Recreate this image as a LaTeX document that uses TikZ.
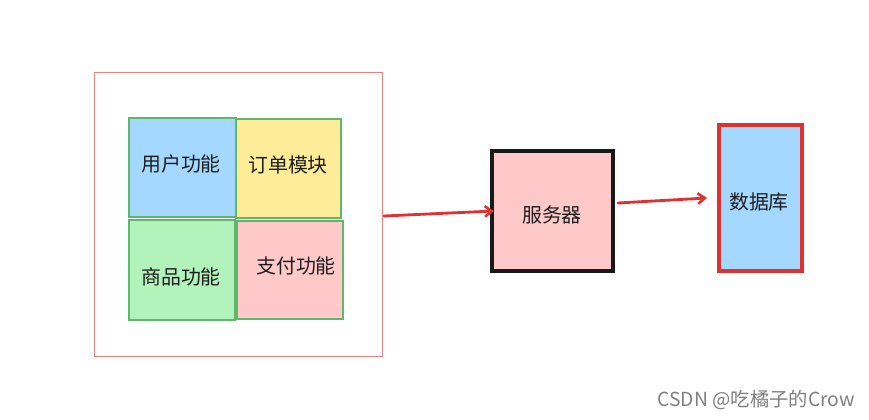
\documentclass[tikz,border=0pt]{standalone}
\usepackage{fontspec}
\setmainfont{Noto Sans CJK SC}
\newfontfamily\cjk{Noto Sans CJK SC}
\definecolor{lblue}{HTML}{A5D8FF}
\definecolor{lyellow}{HTML}{FFEC99}
\definecolor{lgreen}{HTML}{B2F2BB}
\definecolor{lpink}{HTML}{FFC9C9}
\definecolor{gborder}{HTML}{5DB86E}
\definecolor{rline}{HTML}{E03131}
\definecolor{outerred}{HTML}{EE8080}
\definecolor{txt}{HTML}{1E1E1E}
\tikzset{
  px/.style={x=0.03cm,y=-0.03cm},
  cell/.style={draw=gborder,line width=0.9pt},
  lbl/.style={font=\cjk\fontsize{17}{20}\selectfont,text=txt,inner sep=0pt},
  conn/.style={draw=rline,line width=2.4pt,line cap=round,-{Straight Barb[length=6pt,width=9pt,line width=2.2pt]}},
}
\usetikzlibrary{arrows.meta}
\begin{document}
\begin{tikzpicture}[px]
\useasboundingbox[fill=white] (0,0) rectangle (869,419);
% outer container
\draw[outerred,line width=0.8pt] (94,72) rectangle (382,356);
\coordinate (outerE) at (384,216);
% cells
\draw[cell,fill=lblue] (129,118) rectangle (236,217);
\node[lbl] (yh) at (181,164) {用户功能};
\draw[cell,fill=lyellow] (236,119) rectangle (341,218);
\node[lbl] (dd) at (288,165) {订单模块};
\draw[cell,fill=lgreen] (129,220) rectangle (235,320);
\node[lbl] (sp) at (181,277) {商品功能};
\draw[cell,fill=lpink] (237,221) rectangle (343,319);
\node[lbl] (zf) at (296,266) {支付功能};
% server
\node[draw=black!90,fill=lpink,line width=2.9pt,minimum width=121*0.03cm,minimum height=120*0.03cm,inner sep=0pt] (srv) at (552.5,211) {};
\node[lbl] at (552,215) {服务器};
% database
\node[draw=rline,fill=lblue,line width=2.9pt,minimum width=83*0.03cm,minimum height=146*0.03cm,inner sep=0pt] (db) at (760.5,198) {};
\node[lbl] at (759,202) {数据库};
% arrows
\coordinate (a1e) at (494,211);
\coordinate (a2s) at (618,203);
\coordinate (a2e) at (707,198);
\draw[conn] (outerE) -- (a1e);
\draw[conn] (a2s) -- (a2e);
% watermark
\node[font=\cjk\fontsize{16.5}{19}\selectfont,text=black!50,anchor=east,inner sep=0pt] (wm) at (855,400) {CSDN @吃橘子的Crow};
\end{tikzpicture}
\end{document}
